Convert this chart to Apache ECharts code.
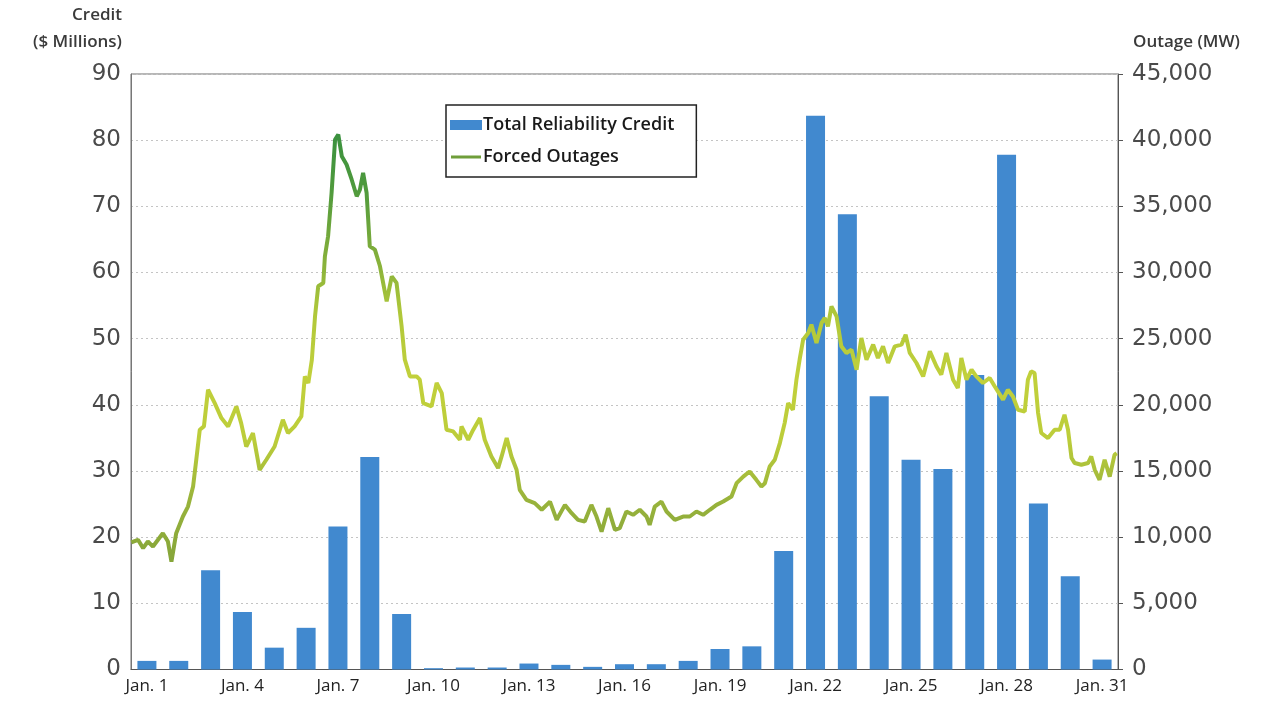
<!DOCTYPE html>
<html>
<head>
<meta charset="utf-8">
<script src="https://cdn.jsdelivr.net/npm/echarts@6/dist/echarts.min.js"></script>
<style>
html,body{margin:0;padding:0;background:#fff;}
#chart{width:1266px;height:702px;}
</style>
</head>
<body>
<div id="chart"></div>
<script>
const categories = ['Jan. 1','Jan. 2','Jan. 3','Jan. 4','Jan. 5','Jan. 6','Jan. 7','Jan. 8','Jan. 9','Jan. 10',
  'Jan. 11','Jan. 12','Jan. 13','Jan. 14','Jan. 15','Jan. 16','Jan. 17','Jan. 18','Jan. 19','Jan. 20',
  'Jan. 21','Jan. 22','Jan. 23','Jan. 24','Jan. 25','Jan. 26','Jan. 27','Jan. 28','Jan. 29','Jan. 30','Jan. 31'];

// Total Reliability Credit ($ Millions), one per day
const creditValues = [1.3,1.3,15.0,8.7,3.3,6.3,21.6,32.1,8.4,0.2,0.3,0.3,0.9,0.7,0.4,0.8,0.8,1.3,3.1,3.5,
  17.9,83.7,68.8,41.3,31.7,30.3,44.5,77.8,25.1,14.1,1.5];

// Forced Outages (MW): time in days elapsed since Jan. 1 00:00, and value
const outageDays = [0.01,0.22,0.38,0.53,0.69,1.00,1.16,1.27,1.42,1.63,1.79,1.95,2.05,2.16,2.29,2.42,2.63,2.84,3.05,3.31,
  3.46,3.62,3.83,4.04,4.25,4.51,4.77,4.93,5.14,5.35,5.46,5.57,5.68,5.78,5.88,6.04,6.09,6.19,6.30,6.41,
  6.51,6.62,6.77,6.93,7.09,7.19,7.29,7.40,7.50,7.66,7.82,8.03,8.19,8.34,8.50,8.60,8.76,8.97,9.07,9.18,
  9.44,9.60,9.76,9.91,10.12,10.33,10.38,10.59,10.75,10.96,11.11,11.32,11.53,11.64,11.80,11.95,12.11,12.21,12.42,12.68,
  12.90,13.16,13.37,13.63,13.84,14.04,14.25,14.46,14.62,14.78,14.99,15.20,15.35,15.56,15.77,15.98,16.19,16.29,16.45,16.66,
  16.82,17.08,17.34,17.55,17.76,17.97,18.18,18.39,18.60,18.86,19.02,19.23,19.43,19.64,19.80,19.91,20.06,20.22,20.38,20.53,
  20.64,20.79,20.90,21.00,21.11,21.27,21.37,21.53,21.69,21.79,21.89,22.00,22.16,22.31,22.47,22.63,22.79,22.94,23.10,23.31,
  23.46,23.62,23.78,23.99,24.20,24.33,24.46,24.67,24.88,25.09,25.30,25.45,25.61,25.82,25.97,26.08,26.24,26.40,26.55,26.76,
  26.97,27.13,27.39,27.54,27.70,27.86,28.07,28.17,28.27,28.38,28.49,28.59,28.80,29.01,29.17,29.32,29.43,29.54,29.64,29.85,
  30.06,30.16,30.27,30.42,30.58,30.74,30.89,30.96];
const outageMW = [9600,9800,9170,9670,9290,10300,9670,8150,10300,11560,12310,13830,15850,18120,18370,21140,20130,19000,18370,19880,
  18620,16850,17870,15090,15850,16850,18870,17870,18370,19120,22150,21650,23400,26690,28960,29210,31220,32740,36020,40050,
  40430,38790,38160,37030,35760,36270,37530,36020,31980,31730,30470,27820,29710,29210,25930,23410,22150,22150,21900,20130,
  19880,21650,20890,18120,17990,17360,18370,17360,18120,19000,17360,16100,15220,16100,17490,16100,15090,13580,12820,12570,
  12070,12690,11310,12440,11810,11310,11180,12440,11560,10420,12190,10550,10680,11940,11690,12070,11560,10930,12310,12690,
  11940,11310,11560,11560,11940,11690,12070,12440,12690,13070,14080,14580,14960,14330,13830,14080,15340,15850,17110,18620,
  20130,19630,21900,23410,24920,25430,26060,24670,26190,26570,25930,27440,26690,24420,23920,24170,22650,25050,23410,24550,
  23540,24420,23160,24420,24550,25300,23920,23160,22150,24040,22900,22280,23920,21900,21270,23540,21900,22650,22150,21650,
  22030,21390,20390,21140,20630,19630,19500,21900,22530,22400,19380,17870,17490,18120,18120,19250,18120,15980,15600,15470,
  15600,16100,15090,14330,15850,14580,16220,16350];

const leftTicks = { min: 0, max: 90, interval: 10 };
const rightTicks = { min: 0, max: 45000, interval: 5000 };

const chart = echarts.init(document.getElementById('chart'), null, { renderer: 'canvas' });
const labelFont = 'DejaVu Sans';
chart.setOption({
  animation: false,
  backgroundColor: '#ffffff',
  grid: { left: 131, right: 148, top: 74, bottom: 32.5, show: true, borderColor: '#6e6e6e', borderWidth: 1 },
  legend: {
    orient: 'vertical', left: 446, top: 105,
    backgroundColor: '#ffffff', borderColor: '#222', borderWidth: 1.5, borderRadius: 0,
    padding: [9, 22, 9, 4], itemGap: 10, itemWidth: 32, itemHeight: 10,
    textStyle: { fontFamily: 'Open Sans', fontWeight: 600, fontSize: 18, lineHeight: 22, color: '#1a1a1a', padding: [0, 0, 0, -4] },
    data: [
      { name: 'Total Reliability Credit', icon: 'rect', itemStyle: { color: '#4189cf' } },
      { name: 'Forced Outages', icon: 'path://M0,0L0.01,0M0,3.5H30V6.5H0ZM0,10L0.01,10', itemStyle: { color: '#6f9e3a' } }
    ]
  },
  xAxis: [
    {
      type: 'category', data: categories, boundaryGap: true,
      axisLine: { show: true, lineStyle: { color: '#555' } },
      axisTick: { show: false },
      axisLabel: { interval: 2, fontFamily: 'Open Sans', fontSize: 17, color: '#222', margin: 8 },
      splitLine: { show: false }
    },
    { type: 'value', min: 0, max: 31, show: false, gridIndex: 0 }
  ],
  yAxis: [
    {
      type: 'value', min: leftTicks.min, max: leftTicks.max, interval: leftTicks.interval, position: 'left',
      axisLine: { show: true, lineStyle: { color: '#777' } },
      axisTick: { show: false },
      axisLabel: { fontFamily: labelFont, fontSize: 23, color: '#4a4a4a', margin: 10 },
      splitLine: { show: true, lineStyle: { color: '#c4c4c4', type: [2, 3], width: 1 } }
    },
    {
      type: 'value', min: rightTicks.min, max: rightTicks.max, interval: rightTicks.interval, position: 'right',
      axisLine: { show: true, lineStyle: { color: '#555' } },
      axisTick: { show: true, length: 5, inside: false, lineStyle: { color: '#555' } },
      axisLabel: { fontFamily: labelFont, fontSize: 23, color: '#4a4a4a', margin: 14,
        formatter: v => v.toLocaleString('en-US') },
      splitLine: { show: false }
    }
  ],
  visualMap: {
    show: false, type: 'continuous', seriesIndex: 1, dimension: 1, min: 8000, max: 41000,
    inRange: { color: ['#85a53a','#98b33b','#bccd3a','#c1d03b','#b0c83a','#7fad3b','#4f9a3d','#38903f'] }
  },
  series: [
    {
      name: 'Total Reliability Credit', type: 'bar', xAxisIndex: 0, yAxisIndex: 0,
      data: creditValues, barWidth: 19,
      itemStyle: { color: '#4189cf' }, z: 2
    },
    {
      name: 'Forced Outages', type: 'line', xAxisIndex: 1, yAxisIndex: 1,
      data: outageDays.map((d, i) => [d, outageMW[i]]),
      showSymbol: false, symbol: 'none', smooth: false,
      lineStyle: { width: 4 }, z: 3
    }
  ],
  graphic: [
    { type: 'text', right: 1266 - 122, top: 7, style: { text: 'Credit', fontFamily: 'Open Sans', fontWeight: 600, fontSize: 17, fill: '#3a3a3a' } },
    { type: 'text', right: 1266 - 122, top: 34, style: { text: '($ Millions)', fontFamily: 'Open Sans', fontWeight: 600, fontSize: 17, fill: '#3a3a3a' } },
    { type: 'text', left: 1133, top: 34, style: { text: 'Outage (MW)', fontFamily: 'Open Sans', fontWeight: 600, fontSize: 17, fill: '#3a3a3a' } }
  ]
});
</script>
</body>
</html>
